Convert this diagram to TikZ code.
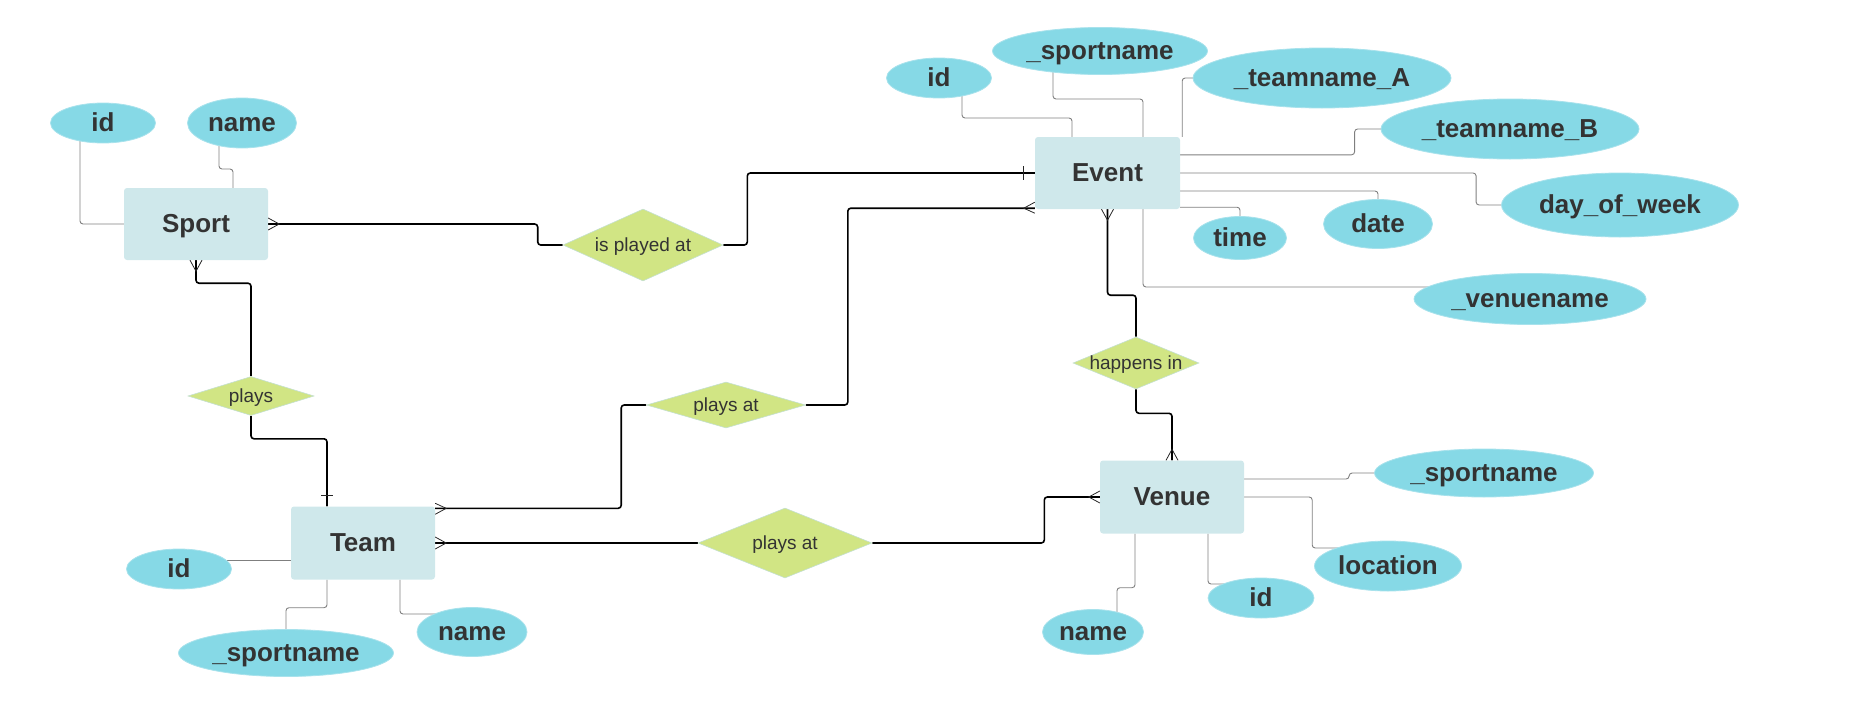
\documentclass[tikz,border=0pt]{standalone}
\usepackage{fontspec}
\setmainfont{Liberation Sans}
\usetikzlibrary{shapes.geometric,calc,backgrounds}
\definecolor{entfill}{HTML}{CFE8EB}
\definecolor{attfill}{HTML}{86D9E6}
\definecolor{attedge}{HTML}{A8E2EC}
\definecolor{relfill}{HTML}{D1E584}
\definecolor{reledge}{HTML}{C4E0D0}
\definecolor{txt}{HTML}{333333}
\definecolor{thinline}{HTML}{7F7F7F}
\newcommand{\zw}[1]{\makebox[0pt]{#1}}
\tikzset{
  entity/.style={rectangle, rounded corners=3pt, fill=entfill, inner sep=0pt,
    minimum width=144pt, minimum height=72pt, text=txt,
    font=\fontsize{26}{30}\selectfont\bfseries, text height=20pt, text depth=3.5pt},
  attr/.style={ellipse, fill=attfill, draw=attedge, line width=0.8pt, inner sep=0pt,
    text=txt, font=\fontsize{26}{30}\selectfont\bfseries, text height=20pt, text depth=3.5pt},
  rel/.style={diamond, fill=relfill, draw=reledge, line width=0.6pt, inner sep=0pt,
    text=txt, font=\fontsize{19}{22}\selectfont, text height=15pt, text depth=2pt},
  relline/.style={draw=black, line width=1.6pt, rounded corners=3pt},
  attline/.style={draw=thinline, line width=0.9pt, rounded corners=3pt},
  crow/.style={draw=black!85, line width=0.8pt},
}
\begin{document}
\begin{tikzpicture}[x=1pt,y=-1pt]
\useasboundingbox (0,0) rectangle (1870,720);

% entities
\node[entity] (sport) at (196,224) {\zw{Sport}};
\node[entity, minimum width=145pt] (event) at (1107.5,173) {\zw{Event}};
\node[entity, minimum height=73pt] (team) at (363,543) {\zw{Team}};
\node[entity, minimum height=73pt] (venue) at (1172,497) {\zw{Venue}};

% relationships
\node[rel, minimum width=160pt, minimum height=72pt] (ipa) at (643,245) {\zw{is played at}};
\node[rel, minimum width=126pt, minimum height=39pt] (plays) at (251,396) {\zw{plays}};
\node[rel, minimum width=159pt, minimum height=46pt] (pam) at (726,405) {\zw{plays at}};
\node[rel, minimum width=174pt, minimum height=70pt] (pab) at (785,543) {\zw{plays at}};
\node[rel, minimum width=126pt, minimum height=52pt] (hi) at (1136,363) {\zw{happens in}};

% attributes
\node[attr, minimum width=105pt, minimum height=40pt] (sid) at (103,123) {\zw{id}};
\node[attr, minimum width=109pt, minimum height=50pt] (sname) at (242,123) {\zw{name}};
\node[attr, minimum width=105pt, minimum height=40pt] (eid) at (939,78) {\zw{id}};
\node[attr, minimum width=215pt, minimum height=47pt] (esn) at (1100,51) {\zw{\_sportname}};
\node[attr, minimum width=258pt, minimum height=60pt] (eta) at (1322,78) {\zw{\_teamname\_A}};
\node[attr, minimum width=258pt, minimum height=60pt] (etb) at (1510,129) {\zw{\_teamname\_B}};
\node[attr, minimum width=237pt, minimum height=64pt] (edow) at (1620,205) {\zw{day\_of\_week}};
\node[attr, minimum width=93pt, minimum height=43pt] (etime) at (1240,238) {\zw{time}};
\node[attr, minimum width=109pt, minimum height=49pt] (edate) at (1378,224) {\zw{date}};
\node[attr, minimum width=232pt, minimum height=51pt] (evn) at (1530,299) {\zw{\_venuename}};
\node[attr, minimum width=105pt, minimum height=40pt] (tid) at (179,569) {\zw{id}};
\node[attr, minimum width=215pt, minimum height=47pt] (tsn) at (286,653) {\zw{\_sportname}};
\node[attr, minimum width=110pt, minimum height=49pt] (tname) at (472,632) {\zw{name}};
\node[attr, minimum width=219pt, minimum height=48pt] (vsn) at (1484,473) {\zw{\_sportname}};
\node[attr, minimum width=147pt, minimum height=50pt] (vloc) at (1388,566) {\zw{location}};
\node[attr, minimum width=106pt, minimum height=40pt] (vid) at (1261,598) {\zw{id}};
\node[attr, minimum width=101pt, minimum height=45pt] (vname) at (1093,632) {\zw{name}};

% helper coordinates
\coordinate (tN) at ($(team.north)+(-36,0)$);
\coordinate (tA) at ($(team.north east)+(0,2)$);
\coordinate (eB) at ($(event.south west)+(0,-1)$);

\begin{scope}[on background layer]
% relationship connectors
\draw[relline] (sport.east) -| ($(ipa.west)+(-25,0)$) -- (ipa.west);
\draw[relline] (ipa.east) -- ++(24,0) |- (event.west);
\draw[relline] (sport.south) -- ++(0,23) -| (plays.north);
\draw[relline] (plays.south) -- ++(0,23) -| (tN);
\draw[relline] (tA) -| ($(pam.west)+(-25,0)$) -- (pam.west);
\draw[relline] (pam.east) -- ++(42,0) |- (eB);
\draw[relline] (team.east) -- (pab.west);
\draw[relline] (pab.east) -- ++(172,0) |- (venue.west);
\draw[relline] (event.south) -- ++(0,86) -| (hi.north);
\draw[relline] (hi.south) -- ++(0,24) -| (venue.north);

% attribute connectors
\draw[attline] ($(sid.center)+(-23,0)$) |- (sport.west);
\draw[attline] ($(sname.center)+(-23,0)$) -- ++(0,46) -| ($(sport.north)+(37,0)$);
\draw[attline] ($(eid.center)+(23,0)$) -- ++(0,40) -| ($(event.north)+(-35.5,0)$);
\draw[attline] ($(esn.center)+(-47,0)$) -- ++(0,48) -| ($(event.north)+(35.5,0)$);
\draw[attline] (eta.center) -| ($(event.north east)+(2,0)$);
\draw[attline] ($(event.north east)+(0,18)$) -| ($(etb.west)+(-26,0)$) -- (etb.center);
\draw[attline] (event.east) -| ($(edow.west)+(-25,0)$) -- (edow.center);
\draw[attline] ($(event.east)+(0,18)$) -| (edate.center);
\draw[attline] ($(event.south east)+(0,-2)$) -| (etime.center);
\draw[attline] ($(event.south)+(35.5,0)$) |- ($(evn.center)+(0,-12)$);
\draw[attline] ($(tid.center)+(0,-9)$) -- ($(team.west)+(0,17)$);
\draw[attline] ($(team.south)+(-36,0)$) -- ++(0,28) -| (tsn.center);
\draw[attline] ($(team.south)+(37,0)$) |- ($(tname.center)+(0,-18)$);
\draw[attline] ($(venue.east)+(0,-18)$) -| ($(vsn.west)+(-25,0)$) -- (vsn.center);
\draw[attline] (venue.east) -- ++(68,0) |- ($(vloc.center)+(0,-18)$);
\draw[attline] ($(venue.south)+(36,0)$) |- ($(vid.center)+(0,-14)$);
\draw[attline] ($(venue.south)+(-37,0)$) -- ++(0,54) -| ($(vname.center)+(24,0)$);
\end{scope}

% crow's feet (many)
\draw[crow] ($(sport.east)+(0,-6)$) -- ($(sport.east)+(11,0)$) -- ($(sport.east)+(0,6)$);
\draw[crow] ($(sport.south)+(-6,0)$) -- ($(sport.south)+(0,11)$) -- ($(sport.south)+(6,0)$);
\draw[crow] ($(tA)+(0,-5)$) -- ($(tA)+(11,0)$) -- ($(tA)+(0,6)$);
\draw[crow] ($(team.east)+(0,-6)$) -- ($(team.east)+(11,0)$) -- ($(team.east)+(0,6)$);
\draw[crow] ($(eB)+(0,-6)$) -- ($(eB)+(-11,0)$) -- ($(eB)+(0,5)$);
\draw[crow] ($(event.south)+(-6,0)$) -- ($(event.south)+(0,11)$) -- ($(event.south)+(6,0)$);
\draw[crow] ($(venue.north)+(-6,0)$) -- ($(venue.north)+(0,-11)$) -- ($(venue.north)+(6,0)$);
\draw[crow] ($(venue.west)+(0,-6)$) -- ($(venue.west)+(-11,0)$) -- ($(venue.west)+(0,6)$);
% one marks
\draw[crow] ($(event.west)+(-11,-7)$) -- ($(event.west)+(-11,7)$);
\draw[crow] ($(tN)+(-6,-11)$) -- ($(tN)+(6,-11)$);
\end{tikzpicture}
\end{document}
